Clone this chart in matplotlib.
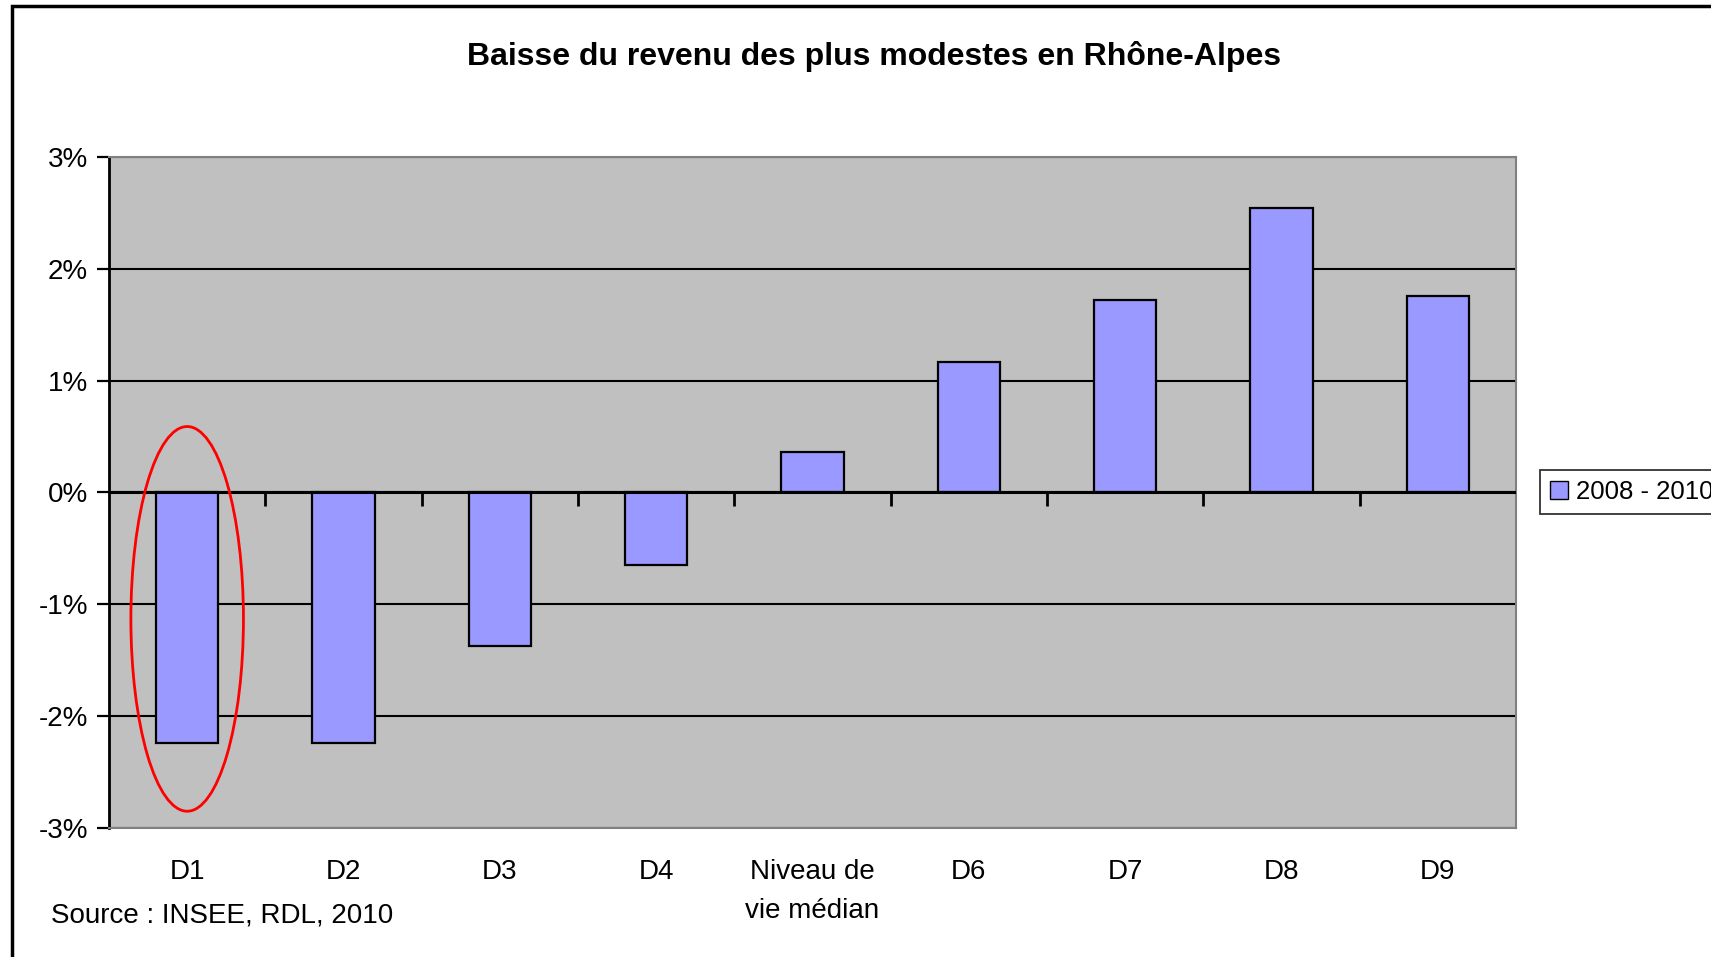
import matplotlib
matplotlib.use("Agg")
import matplotlib.pyplot as plt
from matplotlib.patches import Ellipse, Rectangle, Patch

plt.rcParams['font.family'] = ['Liberation Sans', 'DejaVu Sans']

# données (variation du revenu 2008 - 2010, en %)
categories = ["D1", "D2", "D3", "D4", "Niveau de\nvie médian", "D6", "D7", "D8", "D9"]
values = [-2.24, -2.24, -1.37, -0.65, 0.36, 1.17, 1.72, 2.54, 1.76]
yticks = [-3, -2, -1, 0, 1, 2, 3]
ytick_labels = ["-3%", "-2%", "-1%", "0%", "1%", "2%", "3%"]
series_label = "2008 - 2010"

W, H = 1711, 957
fig = plt.figure(figsize=(W / 100, H / 100), dpi=100)
ax = fig.add_axes([109 / W, 1 - 828 / H, (1516 - 109) / W, (828 - 157) / H])

x = list(range(len(categories)))
ax.bar(x, values, width=0.4, color="#9999ff", edgecolor="black", linewidth=1.6, zorder=3)

ax.set_facecolor("#c0c0c0")
ax.set_xlim(-0.5, len(categories) - 0.5)
ax.set_ylim(-3, 3)
ax.set_yticks(yticks)
ax.set_yticklabels(ytick_labels)
ax.yaxis.grid(True, color="black", linewidth=1.5, zorder=1)
ax.set_axisbelow(True)
ax.tick_params(axis="y", direction="out", length=9, width=1.6, labelsize=20, pad=6)

ax.set_xticks(x)
ax.set_xticklabels(categories, fontsize=20, linespacing=1.65, va="top")
ax.tick_params(axis="x", length=0, pad=22)

for side in ["top", "right", "bottom"]:
    ax.spines[side].set_color("#808080")
    ax.spines[side].set_linewidth(1.5)
ax.spines["left"].set_linewidth(2)
ax.spines["left"].set_color("black")

# axe horizontal au niveau 0 avec graduations entre catégories
ax.axhline(0, color="black", linewidth=2.2, zorder=4)
secax = ax.secondary_xaxis(0.5)
secax.set_xticks([i - 0.5 for i in range(1, len(categories))])
secax.set_xticklabels([])
secax.tick_params(direction="out", length=10, width=2, color="black")
secax.spines["bottom"].set_visible(False)
secax.spines["top"].set_visible(False)
secax.xaxis.set_ticks_position("bottom")

# ellipse rouge autour de D1
ax.add_patch(Ellipse((0, -1.13), 0.72, 3.44, fill=False, edgecolor="red", linewidth=2, zorder=5))

fig.text(874 / W, 1 - 57 / H, "Baisse du revenu des plus modestes en Rhône-Alpes",
         ha="center", va="center", fontsize=23, fontweight="bold")
fig.text(51 / W, 1 - 922 / H, "Source : INSEE, RDL, 2010", ha="left", va="baseline", fontsize=20)

leg = fig.legend(handles=[Patch(facecolor="#9999ff", edgecolor="black", label=series_label)],
                 loc="center left", bbox_to_anchor=(1540 / W, 1 - 492 / H),
                 fontsize=18.5, frameon=True, fancybox=False, handlelength=0.7, handleheight=0.7,
                 handletextpad=0.3, borderpad=0.4, borderaxespad=0)
leg.get_frame().set_edgecolor("black")
leg.get_frame().set_linewidth(1.3)

# cadre du graphique
fig.patches.append(Rectangle((12 / W, -0.1), 1.2, 1.1 - 6 / H, transform=fig.transFigure,
                             fill=False, edgecolor="black", linewidth=2.5))

fig.savefig("out.png", dpi=100)
